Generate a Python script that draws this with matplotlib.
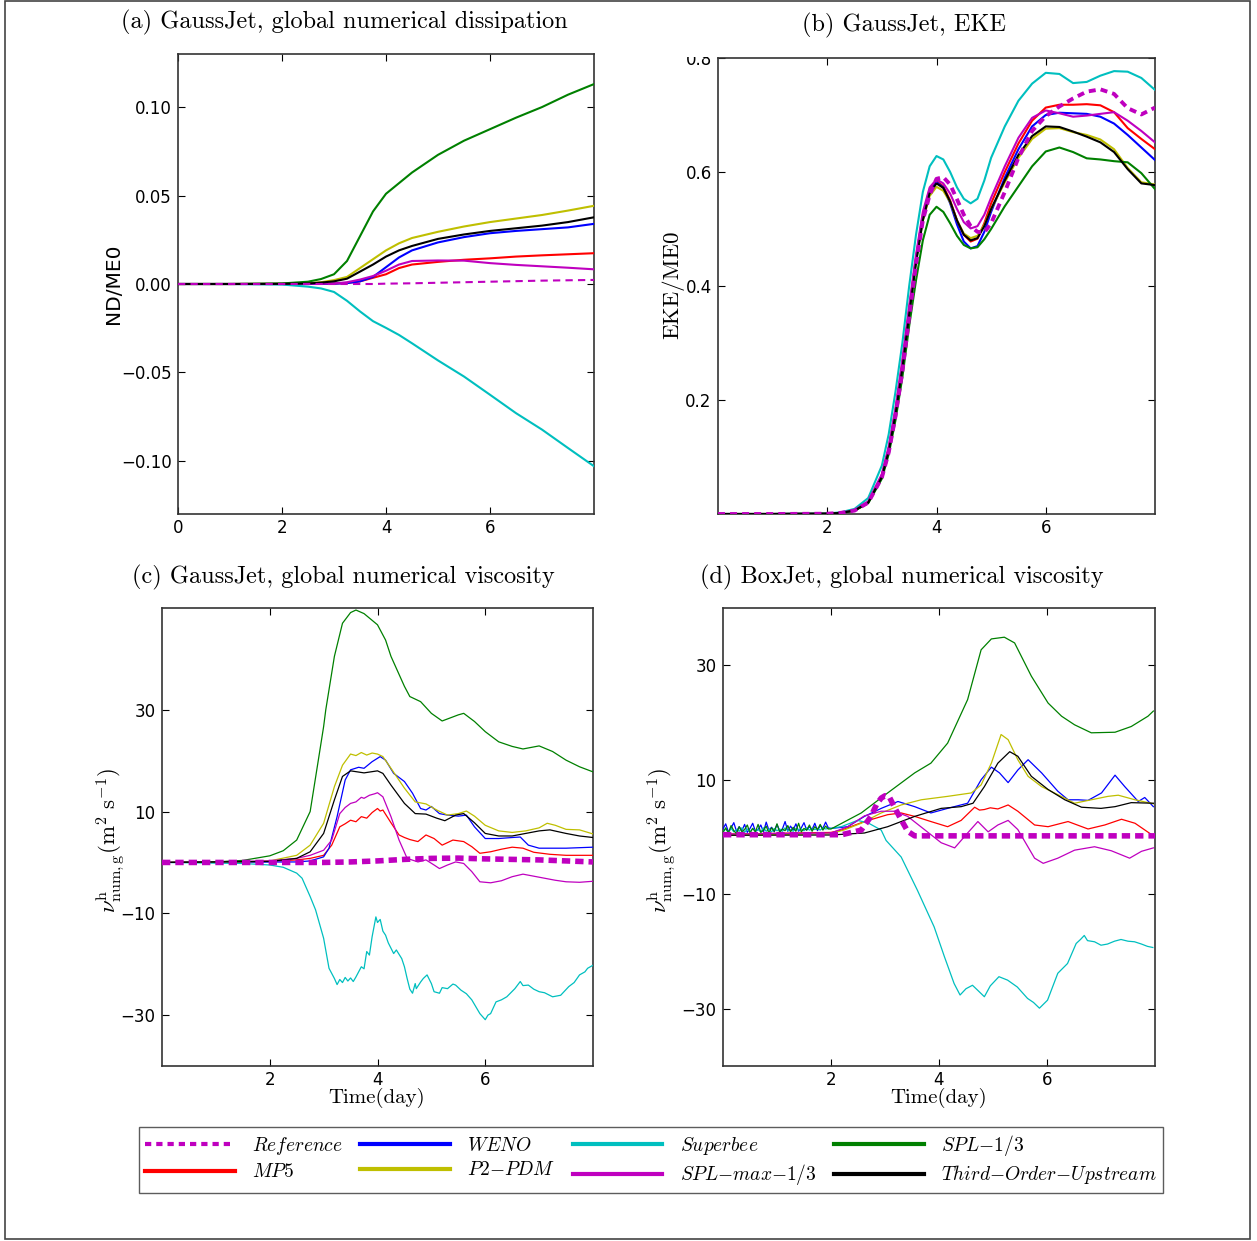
"""
Four-panel comparison of advection schemes: numerical dissipation, EKE and
global numerical viscosity for the GaussJet / BoxJet test cases.
"""

import numpy as np
import matplotlib
matplotlib.use("Agg")
import matplotlib.pyplot as plt
from matplotlib.lines import Line2D
from matplotlib.patches import Rectangle

# ── Style ────────────────────────────────────────────────────────────
plt.rcParams.update({
    "font.family": "DejaVu Sans",
    "mathtext.fontset": "cm",
    "font.size": 12,
    "xtick.direction": "in",
    "ytick.direction": "in",
    "xtick.top": True,
    "ytick.right": True,
    "xtick.major.size": 5,
    "ytick.major.size": 5,
    "xtick.major.pad": 3.5,
    "ytick.major.pad": 4.5,
    "axes.edgecolor": "#333333",
    "axes.linewidth": 1.2,
    "axes.unicode_minus": True,
})

W, H = 1257, 1241
SERIF = "cmr10"

SCHEMES = ["Reference", "MP5", "WENO", "P2-PDM", "Superbee",
           "SPL-max-1/3", "SPL-1/3", "Third-Order-Upstream"]
LEGEND_LABELS = [r"$Reference$", r"$MP5$", r"$WENO$", r"$P2{-}PDM$",
                 r"$Superbee$", r"$SPL{-}max{-}1/3$", r"$SPL{-}1/3$",
                 r"$Third{-}Order{-}Upstream$"]
COLORS = {
    "Reference": "#bf00bf",
    "MP5": "#ff0000",
    "WENO": "#0000ff",
    "P2-PDM": "#bfbf00",
    "Superbee": "#00bfbf",
    "SPL-max-1/3": "#bf00bf",
    "SPL-1/3": "#008000",
    "Third-Order-Upstream": "#000000",
}

# ── (a) GaussJet, global numerical dissipation (ND/ME0) ─────────────
A_T = [0, 1, 2, 2.5, 2.75, 3, 3.25, 3.5, 3.75, 4, 4.25, 4.5, 5, 5.5, 6, 6.5, 7, 7.5, 8]
A_REF = [0, 0, 0, 0, 0, 0, 0, 0, 0, 0.0002, 0.0003, 0.0004, 0.0007, 0.001,
         0.0013, 0.0016, 0.0019, 0.0021, 0.0023]
A_MP5 = [0, 0, 0, 0, 0.0001, 0.0002, 0.0006, 0.0015, 0.0035, 0.0055, 0.009,
         0.011, 0.0125, 0.0137, 0.0145, 0.0155, 0.0162, 0.0168, 0.0174]
A_WENO = [0, 0, 0, 0, 0.0001, 0.0002, 0.0005, 0.0015, 0.004, 0.0095, 0.015,
          0.019, 0.0235, 0.0265, 0.0287, 0.030, 0.031, 0.032, 0.034]
A_P2PDM = [0, 0, 0.0001, 0.0005, 0.001, 0.0022, 0.004, 0.009, 0.014, 0.019,
           0.023, 0.026, 0.0295, 0.0325, 0.035, 0.037, 0.039, 0.0415, 0.0442]
A_SUPERBEE = [0, 0, -0.0003, -0.0015, -0.0025, -0.0045, -0.0095, -0.0155, -0.021,
              -0.0248, -0.0288, -0.0335, -0.0432, -0.0523, -0.0626, -0.073,
              -0.0823, -0.0927, -0.103]
A_SPLMAX = [0, 0, 0, 0.0001, 0.0002, 0.0003, 0.001, 0.0025, 0.0045, 0.0075,
            0.011, 0.013, 0.0133, 0.0132, 0.0118, 0.0108, 0.0100, 0.0092, 0.0083]
A_SPL13 = [0, 0, 0.0003, 0.0013, 0.0028, 0.0055, 0.013, 0.027, 0.041, 0.051,
           0.057, 0.063, 0.073, 0.081, 0.0875, 0.094, 0.100, 0.107, 0.113]
A_TOU = [0, 0, 0.0001, 0.0003, 0.0008, 0.0015, 0.003, 0.007, 0.011, 0.0155,
         0.019, 0.0215, 0.0255, 0.028, 0.030, 0.0315, 0.033, 0.035, 0.0377]

# ── (b) GaussJet, EKE/ME0 ───────────────────────────────────────────
B_T = [0, 1, 2, 2.25, 2.5, 2.75, 3.0, 3.125, 3.25, 3.375, 3.5, 3.625, 3.75,
       3.875, 4.0, 4.125, 4.25, 4.375, 4.5, 4.625, 4.75, 4.875, 5.0, 5.25,
       5.5, 5.75, 6.0, 6.25, 6.5, 6.75, 7.0, 7.25, 7.5, 7.75, 8.0]
B_REF = [0, 0, 0.0005, 0.002, 0.006, 0.02, 0.064, 0.108, 0.172, 0.25, 0.345,
         0.438, 0.515, 0.56, 0.588, 0.591, 0.578, 0.552, 0.525, 0.505, 0.495,
         0.494, 0.51, 0.565, 0.625, 0.672, 0.698, 0.715, 0.729, 0.741, 0.745,
         0.737, 0.712, 0.701, 0.713]
B_MP5 = [0, 0, 0.0005, 0.002, 0.006, 0.021, 0.068, 0.115, 0.183, 0.265, 0.36,
         0.45, 0.525, 0.57, 0.584, 0.575, 0.55, 0.515, 0.49, 0.478, 0.483,
         0.51, 0.545, 0.60, 0.65, 0.69, 0.713, 0.718, 0.718, 0.719, 0.717,
         0.705, 0.677, 0.658, 0.64]
B_WENO = [0, 0, 0.0005, 0.002, 0.006, 0.02, 0.066, 0.112, 0.178, 0.26, 0.355,
          0.445, 0.518, 0.565, 0.582, 0.573, 0.545, 0.508, 0.478, 0.466, 0.47,
          0.495, 0.53, 0.59, 0.64, 0.68, 0.70, 0.704, 0.703, 0.702, 0.697,
          0.685, 0.665, 0.643, 0.621]
B_P2PDM = [0, 0, 0.0005, 0.002, 0.006, 0.02, 0.066, 0.112, 0.178, 0.26, 0.355,
           0.445, 0.515, 0.558, 0.574, 0.567, 0.547, 0.515, 0.492, 0.484, 0.488,
           0.507, 0.535, 0.582, 0.625, 0.658, 0.676, 0.677, 0.670, 0.665,
           0.657, 0.640, 0.607, 0.582, 0.578]
B_SUPERBEE = [0, 0, 0.0008, 0.003, 0.009, 0.028, 0.085, 0.14, 0.215, 0.30,
              0.40, 0.49, 0.565, 0.61, 0.628, 0.622, 0.60, 0.573, 0.553, 0.545,
              0.553, 0.585, 0.625, 0.68, 0.725, 0.755, 0.774, 0.772, 0.756,
              0.758, 0.769, 0.777, 0.776, 0.765, 0.744]
B_SPLMAX = [0, 0, 0.0005, 0.002, 0.007, 0.022, 0.07, 0.118, 0.186, 0.27, 0.365,
            0.455, 0.53, 0.573, 0.587, 0.58, 0.562, 0.535, 0.512, 0.501, 0.505,
            0.525, 0.555, 0.61, 0.66, 0.695, 0.708, 0.703, 0.697, 0.699, 0.702,
            0.705, 0.690, 0.672, 0.652]
B_SPL13 = [0, 0, 0.0005, 0.002, 0.006, 0.019, 0.062, 0.105, 0.165, 0.24, 0.33,
           0.41, 0.48, 0.525, 0.539, 0.53, 0.51, 0.488, 0.472, 0.466, 0.468,
           0.482, 0.50, 0.54, 0.575, 0.61, 0.636, 0.643, 0.635, 0.624, 0.622,
           0.619, 0.617, 0.598, 0.570]
B_TOU = [0, 0, 0.0005, 0.002, 0.006, 0.02, 0.065, 0.11, 0.175, 0.255, 0.35,
         0.44, 0.515, 0.563, 0.580, 0.572, 0.548, 0.515, 0.49, 0.48, 0.484,
         0.505, 0.535, 0.585, 0.63, 0.663, 0.68, 0.679, 0.671, 0.662, 0.652,
         0.635, 0.605, 0.58, 0.577]

# ── (c) GaussJet, global numerical viscosity: (time, value) pairs ──
C_REF = [(0, 0), (3, 0), (3.5, 0.1), (4, 0.3), (4.5, 0.6), (5, 0.8), (5.5, 0.85),
         (6, 0.7), (6.5, 0.6), (7, 0.5), (7.5, 0.3), (8, 0.1)]
C_MP5 = [(0, 0), (2, 0.2), (2.5, 0.5), (2.75, 0.8), (3.0, 1.4), (3.15, 3.4),
         (3.3, 7.0), (3.4, 7.6), (3.5, 8.3), (3.6, 8.0), (3.7, 9.0), (3.8, 8.7),
         (3.9, 9.8), (4.0, 10.6), (4.05, 10.1), (4.1, 10.3), (4.25, 7.8),
         (4.4, 5.4), (4.5, 4.9), (4.6, 4.5), (4.75, 4.1), (4.9, 5.4), (5.05, 4.7),
         (5.2, 3.4), (5.4, 4.4), (5.6, 4.1), (5.75, 3.1), (5.9, 1.8), (6.1, 2.1),
         (6.3, 2.6), (6.5, 3.0), (6.7, 2.8), (6.9, 2.0), (7.2, 1.6), (7.5, 1.4),
         (8, 1.4)]
C_WENO = [(0, 0), (2.5, 0.1), (2.75, 0.3), (3.0, 1.1), (3.1, 2.8), (3.25, 9.0),
          (3.4, 16.2), (3.5, 18.2), (3.65, 18.7), (3.75, 18.5), (3.9, 19.8),
          (4.05, 20.8), (4.15, 20.1), (4.3, 17.5), (4.5, 15.9), (4.65, 13.6),
          (4.8, 10.6), (4.9, 10.3), (5.0, 11.0), (5.15, 9.6), (5.3, 9.3),
          (5.5, 9.1), (5.65, 9.3), (5.8, 7.0), (6.0, 4.7), (6.25, 4.7), (6.5, 4.9),
          (6.65, 5.0), (6.8, 3.4), (7.0, 2.8), (7.5, 2.8), (8, 3.0)]
C_P2PDM = [(0, 0), (1.5, 0.1), (2, 0.3), (2.5, 1.4), (2.75, 3.4), (3.0, 7.7),
           (3.2, 14.9), (3.35, 19.1), (3.5, 21.3), (3.6, 21.0), (3.7, 21.6),
           (3.8, 21.1), (3.9, 21.5), (4.0, 21.3), (4.1, 20.8), (4.25, 18.5),
           (4.5, 14.6), (4.7, 11.9), (4.9, 11.5), (5.1, 10.3), (5.3, 9.3),
           (5.5, 9.6), (5.65, 10.1), (5.8, 9.1), (6.0, 7.3), (6.25, 6.2),
           (6.5, 5.9), (6.75, 6.2), (7.0, 6.8), (7.15, 7.7), (7.3, 7.3),
           (7.5, 6.5), (7.75, 6.4), (8, 5.6)]
C_SUPERBEE = [(0, 0), (1.5, -0.2), (2, -0.5), (2.25, -0.95), (2.5, -2.1),
              (2.6, -3.1), (2.75, -6.7), (2.85, -9.3), (3.0, -14.9), (3.1, -20.8),
              (3.2, -22.8), (3.25, -24.0), (3.3, -23.0), (3.35, -23.6),
              (3.4, -22.6), (3.45, -23.3), (3.5, -22.7), (3.55, -23.4),
              (3.6, -22.5), (3.7, -20.5), (3.75, -20.9), (3.8, -17.5),
              (3.85, -18.2), (3.9, -14.6), (3.97, -10.7), (4.0, -11.8),
              (4.05, -11.2), (4.1, -13.5), (4.15, -14.3), (4.2, -15.8),
              (4.3, -17.9), (4.35, -17.2), (4.45, -18.9), (4.5, -20.5),
              (4.55, -22.8), (4.6, -24.9), (4.65, -25.7), (4.7, -23.8),
              (4.72, -24.8), (4.8, -23.5), (4.85, -22.8), (4.92, -22.1),
              (5.0, -23.8), (5.05, -25.4), (5.15, -25.7), (5.2, -24.6),
              (5.3, -24.8), (5.4, -23.9), (5.45, -24.1), (5.55, -25.1),
              (5.65, -25.8), (5.75, -27.0), (5.9, -29.7), (6.0, -30.9),
              (6.05, -30.0), (6.1, -29.7), (6.2, -27.4), (6.3, -27.0),
              (6.4, -26.4), (6.55, -24.8), (6.65, -23.4), (6.7, -24.2),
              (6.8, -24.1), (6.9, -24.9), (7.0, -25.4), (7.1, -25.6),
              (7.25, -26.4), (7.4, -26.1), (7.55, -24.4), (7.65, -23.6),
              (7.75, -22.1), (7.85, -21.5), (7.9, -20.8), (8, -20.2)]
C_SPLMAX = [(0, 0), (2, 0.3), (2.5, 0.8), (2.75, 1.4), (3.0, 2.4), (3.15, 4.4),
            (3.3, 9.6), (3.4, 10.8), (3.5, 11.6), (3.6, 11.9), (3.7, 12.8),
            (3.75, 12.6), (3.85, 13.2), (3.95, 13.5), (4.0, 13.7), (4.1, 12.9),
            (4.25, 9.0), (4.4, 4.4), (4.55, 0.8), (4.75, 0.1), (4.9, 0.5),
            (5.05, -0.5), (5.15, -1.2), (5.3, -0.5), (5.45, 0.1), (5.6, -0.2),
            (5.75, -1.8), (5.9, -3.8), (6.1, -4.0), (6.3, -3.6), (6.5, -2.8),
            (6.7, -2.3), (6.9, -2.7), (7.1, -3.1), (7.3, -3.5), (7.5, -3.8),
            (7.75, -3.9), (8, -3.7)]
C_SPL13 = [(0, 0), (1, 0.1), (1.5, 0.4), (2, 1.3), (2.25, 2.3), (2.5, 4.4),
           (2.75, 10.0), (2.9, 20.0), (3.0, 26.7), (3.04, 30.0), (3.2, 40.5),
           (3.35, 47.0), (3.5, 49.1), (3.6, 49.6), (3.75, 48.9), (4.0, 46.7),
           (4.15, 43.7), (4.25, 40.5), (4.5, 34.6), (4.6, 32.6), (4.8, 31.6),
           (5.0, 29.3), (5.2, 27.8), (5.5, 29.0), (5.6, 29.3), (5.8, 27.7),
           (6.0, 25.7), (6.25, 23.7), (6.5, 22.8), (6.7, 22.3), (7.0, 22.9),
           (7.25, 21.8), (7.5, 20.1), (7.75, 18.8), (8, 17.8)]
C_TOU = [(0, 0), (2, 0.2), (2.5, 0.8), (2.75, 2.1), (3.0, 5.7), (3.2, 12.3),
         (3.35, 16.9), (3.5, 18.0), (3.75, 17.6), (4.0, 18.0), (4.1, 17.5),
         (4.25, 15.2), (4.5, 11.6), (4.7, 9.6), (4.9, 9.5), (5.1, 8.7),
         (5.25, 8.2), (5.45, 9.3), (5.6, 9.6), (5.8, 7.8), (6.0, 5.7),
         (6.25, 5.2), (6.5, 5.2), (6.75, 5.7), (7.0, 6.2), (7.2, 6.4),
         (7.5, 5.7), (7.75, 5.2), (8, 4.9)]

# ── (d) BoxJet, global numerical viscosity ──────────────────────────
# noisy start (t = 0 ... 1.95 every 0.05 day)
D_EARLY_T = np.linspace(0, 1.95, 40)
D_WENO_EARLY = [1.4, 2.3, 0.9, 1.6, 2.5, 1.0, 1.8, 1.1, 2.2, 0.8, 1.5, 2.4, 1.0,
                1.3, 2.1, 0.9, 2.6, 1.2, 1.7, 0.9, 2.2, 1.1, 1.4, 2.7, 1.0, 1.9,
                1.2, 2.3, 1.0, 1.6, 2.5, 1.2, 1.8, 1.3, 2.4, 1.1, 2.0, 1.5, 2.6, 1.6]
D_SPL13_EARLY = [0.8, 1.6, 0.7, 2.0, 1.1, 0.6, 1.8, 0.9, 1.3, 2.1, 0.7, 1.5, 0.9,
                 2.2, 0.8, 1.2, 1.9, 0.7, 1.6, 1.0, 2.3, 0.8, 1.4, 1.1, 2.0, 0.9,
                 1.7, 1.0, 2.4, 0.9, 1.5, 1.2, 2.1, 1.0, 1.8, 1.3, 2.2, 1.2, 1.9, 1.4]
D_SUPERBEE_EARLY = [0.9, 1.4, 0.8, 1.5, 0.9, 1.3, 1.0, 1.6, 0.8, 1.4, 0.9, 1.5,
                    1.0, 1.3, 0.9, 1.6, 1.0, 1.4, 0.9, 1.5, 1.1, 1.4, 1.0, 1.6,
                    1.1, 1.3, 1.0, 1.5, 1.2, 1.4, 1.1, 1.6, 1.2, 1.4, 1.3, 1.5,
                    1.2, 1.6, 1.4, 1.5]
D_REF = [(0, 0.4), (2.2, 0.4), (2.56, 1.2), (2.74, 3.6), (2.85, 5.8), (2.93, 6.8),
         (3.0, 7.2), (3.08, 7.0), (3.17, 5.3), (3.3, 3.0), (3.42, 1.0),
         (3.55, 0.2), (8, 0.2)]
D_MP5 = [(0, 0.5), (2, 0.8), (2.19, 1.2), (2.62, 2.7), (3.05, 3.9), (3.3, 4.2),
         (3.55, 3.6), (3.85, 2.7), (4.16, 1.8), (4.41, 2.9), (4.66, 5.2),
         (4.75, 4.7), (4.84, 4.8), (4.95, 5.1), (5.09, 4.9), (5.2, 5.3),
         (5.28, 5.6), (5.46, 4.5), (5.77, 2.1), (6.02, 1.8), (6.39, 2.7),
         (6.76, 1.4), (7.07, 2.1), (7.38, 3.1), (7.63, 2.4), (7.97, 0.2)]
D_WENO = [(2.0, 1.5), (2.31, 1.8), (2.62, 3.6), (2.93, 5.0), (3.24, 6.2),
          (3.55, 5.3), (3.85, 4.2), (4.16, 5.0), (4.53, 5.9), (4.78, 10.0),
          (4.97, 12.2), (5.12, 11.2), (5.28, 9.5), (5.46, 11.7), (5.65, 13.5),
          (5.9, 11.2), (6.2, 8.0), (6.39, 6.5), (6.58, 6.5), (6.76, 6.4),
          (7.01, 7.7), (7.26, 10.8), (7.44, 8.8), (7.69, 6.2), (7.81, 6.9),
          (7.97, 5.3)]
D_P2PDM = [(0, 0.3), (2, 0.6), (2.25, 1.25), (2.56, 2.4), (2.93, 4.2), (3.3, 5.6),
           (3.67, 6.5), (4.16, 7.1), (4.6, 7.7), (4.78, 9.1), (4.97, 12.9),
           (5.15, 17.9), (5.28, 17.0), (5.46, 13.5), (5.65, 10.6), (5.9, 8.8),
           (6.2, 7.4), (6.51, 5.9), (6.82, 6.5), (7.13, 7.1), (7.32, 7.3),
           (7.63, 6.5), (7.97, 5.8)]
D_SUPERBEE = [(2.0, 1.5), (2.19, 1.8), (2.49, 2.9), (2.68, 2.5), (2.93, 1.2),
              (3.02, -0.6), (3.3, -3.5), (3.6, -9.3), (3.91, -15.7), (4.1, -20.9),
              (4.28, -25.6), (4.39, -27.6), (4.5, -26.5), (4.62, -25.9),
              (4.72, -26.8), (4.84, -27.9), (4.95, -26.0), (5.11, -24.4),
              (5.27, -25.0), (5.45, -26.2), (5.64, -28.2), (5.75, -28.9),
              (5.86, -29.9), (6.01, -28.5), (6.2, -23.8), (6.38, -22.1),
              (6.54, -18.6), (6.62, -17.9), (6.69, -17.2), (6.75, -18.1),
              (6.88, -18.3), (7.0, -18.9), (7.12, -18.7), (7.25, -18.2),
              (7.37, -17.9), (7.5, -18.2), (7.62, -18.3), (7.75, -18.7),
              (7.86, -19.1), (7.96, -19.3)]
D_SPLMAX = [(0, 0.5), (2, 0.7), (2.31, 1.8), (2.62, 3.7), (2.93, 4.5), (3.17, 4.5),
            (3.42, 3.6), (3.73, 1.3), (4.04, -1.0), (4.29, -1.9), (4.53, 0.7),
            (4.72, 2.7), (4.91, 0.9), (5.09, 2.1), (5.28, 2.9), (5.46, 1.3),
            (5.77, -3.7), (5.93, -4.6), (6.2, -3.7), (6.51, -2.3), (6.88, -1.7),
            (7.19, -2.4), (7.53, -3.7), (7.75, -2.5), (7.97, -1.9)]
D_SPL13 = [(2.0, 1.4), (2.56, 4.2), (3.05, 7.7), (3.55, 11.2), (3.85, 12.9),
           (4.16, 16.4), (4.53, 24.0), (4.78, 32.7), (4.97, 34.6), (5.21, 34.9),
           (5.4, 33.9), (5.71, 28.1), (6.02, 23.4), (6.27, 21.1), (6.51, 19.6),
           (6.82, 18.2), (7.26, 18.3), (7.56, 19.3), (7.87, 21.1), (7.97, 22.0)]
D_TOU = [(0, 0.3), (2, 0.35), (2.62, 0.7), (3.05, 1.8), (3.55, 3.6), (4.04, 5.0),
         (4.41, 5.3), (4.63, 5.9), (4.84, 8.8), (5.09, 12.9), (5.31, 14.9),
         (5.46, 14.1), (5.71, 10.6), (6.02, 8.3), (6.33, 6.5), (6.64, 5.2),
         (7.0, 5.0), (7.26, 5.3), (7.56, 6.0), (7.97, 5.9)]


def fx(px):
    return px / W


def fy(py):
    return 1 - py / H


def unzip(pairs):
    t, v = zip(*pairs)
    return np.array(t), np.array(v)


def with_early(early, pairs):
    t, v = unzip(pairs)
    return np.concatenate([D_EARLY_T, t]), np.concatenate([early, v])


def style_axes(ax, xticks, yticks, ylim):
    ax.set_xlim(0, 8)
    ax.set_ylim(*ylim)
    ax.set_xticks(xticks)
    ax.set_yticks(yticks)
    ax.tick_params(labelsize=12)


def draw_series(ax, series, lw, ref_lw, ref_dashes):
    for name in SCHEMES:
        t, v = series[name]
        if name == "Reference":
            ax.plot(t, v, color=COLORS[name], lw=ref_lw, dashes=ref_dashes,
                    zorder=4)
        else:
            ax.plot(t, v, color=COLORS[name], lw=lw, zorder=3)


def main():
    fig = plt.figure(figsize=(W / 100, H / 100), dpi=100)

    # (a)
    ax_a = fig.add_axes([fx(178), fy(514), fx(594 - 178), (514 - 54) / H])
    a_vals = [A_REF, A_MP5, A_WENO, A_P2PDM, A_SUPERBEE, A_SPLMAX, A_SPL13, A_TOU]
    draw_series(ax_a, {n: (A_T, v) for n, v in zip(SCHEMES, a_vals)},
                1.5, 1.5, (3.5, 2.5))
    style_axes(ax_a, [0, 2, 4, 6], [-0.10, -0.05, 0.0, 0.05, 0.10], (-0.13, 0.13))

    # (b)
    ax_b = fig.add_axes([fx(718), fy(514), fx(1155 - 718), (514 - 58) / H])
    b_vals = [B_REF, B_MP5, B_WENO, B_P2PDM, B_SUPERBEE, B_SPLMAX, B_SPL13, B_TOU]
    draw_series(ax_b, {n: (B_T, v) for n, v in zip(SCHEMES, b_vals)},
                1.5, 2.8, (1.8, 1.3))
    style_axes(ax_b, [2, 4, 6], [0.2, 0.4, 0.6, 0.8], (0, 0.8))

    # (c)
    ax_c = fig.add_axes([fx(162), fy(1066), fx(593 - 162), (1066 - 608) / H])
    c_pairs = [C_REF, C_MP5, C_WENO, C_P2PDM, C_SUPERBEE, C_SPLMAX, C_SPL13, C_TOU]
    draw_series(ax_c, {n: unzip(p) for n, p in zip(SCHEMES, c_pairs)},
                0.9, 4.0, (1.5, 0.9))
    style_axes(ax_c, [2, 4, 6], [-30, -10, 10, 30], (-40, 50))

    # (d)
    ax_d = fig.add_axes([fx(723), fy(1066), fx(1155 - 723), (1066 - 608) / H])
    d_series = {
        "Reference": unzip(D_REF),
        "MP5": unzip(D_MP5),
        "WENO": with_early(D_WENO_EARLY, D_WENO),
        "P2-PDM": unzip(D_P2PDM),
        "Superbee": with_early(D_SUPERBEE_EARLY, D_SUPERBEE),
        "SPL-max-1/3": unzip(D_SPLMAX),
        "SPL-1/3": with_early(D_SPL13_EARLY, D_SPL13),
        "Third-Order-Upstream": unzip(D_TOU),
    }
    draw_series(ax_d, d_series, 0.9, 4.0, (1.5, 0.9))
    style_axes(ax_d, [2, 4, 6], [-30, -10, 10, 30], (-40, 40))

    # titles
    title_kw = dict(ha="center", va="center", fontsize=17.5, family=SERIF)
    fig.text(fx(344), fy(22), "(a) GaussJet, global numerical dissipation",
             **title_kw)
    fig.text(fx(904), fy(25), "(b) GaussJet, EKE", **title_kw)
    fig.text(fx(343), fy(577), "(c) GaussJet, global numerical viscosity",
             **title_kw)
    fig.text(fx(902), fy(577), "(d) BoxJet, global numerical viscosity",
             **title_kw)

    # axis labels
    fig.text(fx(113), fy(284), "ND/ME0", rotation=90, ha="center",
             va="center", fontsize=14.5)
    fig.text(fx(673), fy(285), "EKE/ME0", rotation=90, ha="center",
             va="center", fontsize=16.5, family=SERIF)
    nu_label = r"$\nu^{\rm h}_{\rm num,g}(\rm m^2\ s^{-1})$"
    fig.text(fx(111), fy(840), nu_label, rotation=90, ha="center",
             va="center", fontsize=16.5)
    fig.text(fx(662), fy(840), nu_label, rotation=90, ha="center",
             va="center", fontsize=16.5)
    fig.text(fx(377), fy(1098), "Time(day)", ha="center", va="center",
             fontsize=15, family=SERIF)
    fig.text(fx(939), fy(1098), "Time(day)", ha="center", va="center",
             fontsize=15, family=SERIF)

    # top of the 0.8 label in (b) is cut off
    fig.patches.append(Rectangle((fx(680), fy(57)), fx(36), 16 / H,
                                 transform=fig.transFigure, facecolor="white",
                                 edgecolor="none", zorder=5))

    # legend
    handles = []
    for name in SCHEMES:
        if name == "Reference":
            handles.append(Line2D([], [], color=COLORS[name], lw=3.0,
                                  dashes=(1.5, 1.2)))
        else:
            handles.append(Line2D([], [], color=COLORS[name], lw=3.0))
    leg = fig.legend(handles, LEGEND_LABELS, loc="center",
                     bbox_to_anchor=(fx(651), fy(1160)), ncol=4, fontsize=14,
                     handlelength=4.6, handletextpad=0.9, columnspacing=0.9,
                     labelspacing=0.3, borderpad=0.3, fancybox=False,
                     frameon=True)
    leg.get_frame().set_edgecolor("#333333")
    leg.get_frame().set_linewidth(1.0)

    # outer frame
    fig.patches.append(Rectangle((fx(5), fy(1239)), fx(1250 - 5), (1239 - 1) / H,
                                 transform=fig.transFigure, fill=False,
                                 edgecolor="#444444", lw=1.2, zorder=0))

    fig.savefig("out.png", dpi=100)
    plt.close(fig)


if __name__ == "__main__":
    main()
